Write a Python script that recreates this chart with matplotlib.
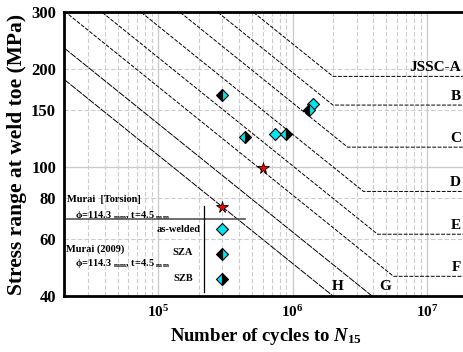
import numpy as np
import matplotlib
matplotlib.use("Agg")
import matplotlib.pyplot as plt

## Fonts: bold Times-like serif everywhere
plt.rcParams['font.family'] = ['Liberation Serif', 'DejaVu Serif']
plt.rcParams['font.weight'] = 'bold'
plt.rcParams['axes.labelweight'] = 'bold'
plt.rcParams['mathtext.fontset'] = 'custom'
plt.rcParams['mathtext.rm'] = 'Liberation Serif:bold'
plt.rcParams['mathtext.bf'] = 'Liberation Serif:bold'
plt.rcParams['mathtext.it'] = 'Liberation Serif:italic:bold'

## JSSC design categories: stress range at 2e6 cycles and cut-off limit (MPa)
categories = ['JSSC-A', 'B', 'C', 'D', 'E', 'F', 'G', 'H']
s_2e6 = [190, 155, 125, 100, 80, 65, 50, 40]
s_cutoff = [190, 155, 115, 84, 62, 46, 32, 23]

## Test data (cycles, stress range)
aswelded_n = [7.4e5, 1.43e6]
aswelded_s = [126, 156]
sza_n = [2.97e5, 1.33e6]
sza_s = [167, 150]
szb_n = [4.43e5, 9.0e5]
szb_s = [124, 126]
torsion_n = [2.97e5, 6.05e5]
torsion_s = [75.4, 99]

xmin, xmax = 2e4, 2e7
ymin, ymax = 40, 300
cyan = '#00e5ee'

fig = plt.figure(figsize=[4.64, 3.52], dpi=100)
ax = fig.add_axes([0.1388, 0.1591, 0.8683, 0.8068])
ax.set_xscale('log')
ax.set_yscale('log')
ax.set_xlim(xmin, xmax)
ax.set_ylim(ymin, ymax)

# S-N curves, slope m=3 then flat at cut-off
for name, s2, sc in zip(categories, s_2e6, s_cutoff):
    n_knee = 2e6 * (s2 / sc) ** 3
    n = np.array([xmin, n_knee, xmax * 2])
    s = np.array([s2 * (2e6 / xmin) ** (1 / 3), sc, sc])
    ls = (0, (7, 1)) if name in ('G', 'H') else (0, (4, 1.5))
    ax.plot(n, s, color='black', lw=0.7, linestyle=ls, zorder=2)
    if sc > ymin:
        ax.text(0.985, sc * 1.015, name,
                transform=ax.get_yaxis_transform(), ha='right', va='bottom',
                fontsize=11)
    else:
        # label sits just right of where the curve meets the bottom axis
        n40 = 2e6 * (s2 / ymin) ** 3
        ax.text(n40 * (1.25 if name == 'G' else 1.09), 40.8, name,
                ha='center', va='bottom', fontsize=11)

# Data markers
dkw = dict(linestyle='none', marker='D', markersize=6.5, markeredgecolor='black',
           markeredgewidth=0.8, zorder=5)
ax.plot(aswelded_n, aswelded_s, markerfacecolor=cyan, **dkw)
ax.plot(sza_n, sza_s, fillstyle='left', markerfacecolor='black',
        markerfacecoloralt=cyan, **dkw)
ax.plot(szb_n, szb_s, fillstyle='left', markerfacecolor=cyan,
        markerfacecoloralt='black', **dkw)
ax.plot(torsion_n, torsion_s, linestyle='none', marker='*', markersize=8.5,
        markerfacecolor='red', markeredgecolor='black', markeredgewidth=0.6,
        zorder=5)

# Legend drawn by hand
leg_n = 2.97e5
ax.plot([leg_n], [64.3], markerfacecolor=cyan, **dkw)
ax.plot([leg_n], [53.9], fillstyle='left', markerfacecolor='black',
        markerfacecoloralt=cyan, **dkw)
ax.plot([leg_n], [45.1], fillstyle='left', markerfacecolor=cyan,
        markerfacecoloralt='black', **dkw)
ax.plot([2.1e4, 4.4e5], [69.3, 69.3], color='#555555', lw=1.2, zorder=4)
ax.plot([2.2e5, 2.2e5], [41.2, 76], color='black', lw=0.9, zorder=4)
ax.text(2.1e4, 79.6, 'Murai  [Torsion]', fontsize=7.5, va='center')
ax.text(2.4e4, 71.0, r'ϕ=114.3 $_{\rm mm}$, t=4.5 $_{\rm mm}$',
        fontsize=7.5, va='center')
ax.text(2.05e5, 64.3, 'as-welded', fontsize=7.5, ha='right', va='center')
ax.text(2.05e4, 55.8, 'Murai (2009)', fontsize=7.5, va='center')
ax.text(2.4e4, 50.2, r'ϕ=114.3 $_{\rm mm}$, t=4.5 $_{\rm mm}$',
        fontsize=7.5, va='center')
ax.text(1.53e5, 54.3, 'SZA', fontsize=7.5, ha='center', va='center')
ax.text(1.53e5, 45.3, 'SZB', fontsize=7.5, ha='center', va='center')

# Grid
ax.grid(which='major', axis='x', color='#cccccc', lw=1.0, linestyle='-')
ax.grid(which='minor', axis='x', color='#cccccc', lw=0.8, linestyle=(0, (4, 2)))
ax.set_yticks([40, 60, 80, 100, 150, 200, 300])
ax.set_yticklabels(['40', '60', '80', '100', '150', '200', '300'])
ax.yaxis.set_minor_locator(matplotlib.ticker.NullLocator())
for yv in [60, 80, 150, 200]:
    ax.axhline(yv, color='#cccccc', lw=0.8, linestyle=(0, (4, 2)), zorder=0)
ax.axhline(100, color='#cccccc', lw=1.0, zorder=0)
ax.set_axisbelow(True)

ax.set_xticks([1e5, 1e6, 1e7])
ax.set_xticklabels([r'$10^{5}$', r'$10^{6}$', r'$10^{7}$'])
ax.tick_params(which='both', length=0, pad=6)
ax.tick_params(axis='x', labelsize=11)
ax.tick_params(axis='y', labelsize=12)
ax.xaxis.set_minor_formatter(matplotlib.ticker.NullFormatter())

for sp in ax.spines.values():
    sp.set_linewidth(2)

ax.set_xlabel(r'Number of cycles to $N_{15}$', fontsize=13.5, labelpad=4)
ax.set_ylabel('Stress range at weld toe (MPa)', fontsize=15.5, labelpad=3)

fig.savefig('out.png', dpi=100)
